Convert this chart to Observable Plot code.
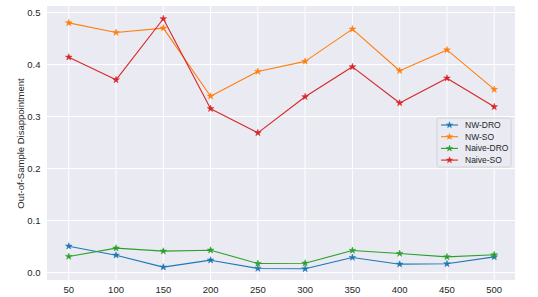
<!DOCTYPE html>
<html><head><meta charset="utf-8">
<script src="https://cdn.jsdelivr.net/npm/d3@7"></script>
<script src="https://cdn.jsdelivr.net/npm/@observablehq/plot@0.6"></script>
<style>
html,body{margin:0;padding:0;background:#fff;}
#chart{position:relative;width:538px;height:297px;}
</style></head>
<body><div id="chart"></div>
<script>
const sampleSizes = [50, 100, 150, 200, 250, 300, 350, 400, 450, 500];
const seriesNames = ["NW-DRO", "NW-SO", "Naive-DRO", "Naive-SO"];
const seriesColors = ["#1f77b4", "#ff7f0e", "#2ca02c", "#d62728"];
const nwDRO    = [0.0506, 0.0333, 0.0103, 0.0237, 0.0077, 0.0071, 0.0288, 0.0160, 0.0167, 0.0300];
const nwSO     = [0.480, 0.4615, 0.470, 0.339, 0.3865, 0.406, 0.468, 0.388, 0.428, 0.352];
const naiveDRO = [0.0308, 0.0468, 0.0410, 0.0429, 0.0173, 0.0179, 0.0423, 0.0365, 0.0301, 0.0340];
const naiveSO  = [0.414, 0.3705, 0.488, 0.315, 0.2686, 0.338, 0.3955, 0.326, 0.3737, 0.3186];
const yTicks = [0, 0.1, 0.2, 0.3, 0.4, 0.5];
const yLabel = "Out-of-Sample Disappointment";

const allSeries = [nwDRO, nwSO, naiveDRO, naiveSO];
const data = [];
seriesNames.forEach((name, i) => {
  sampleSizes.forEach((n, j) => data.push({series: name, n, value: allSeries[i][j]}));
});

const font = "'Liberation Sans', Arial, sans-serif";
const plot = Plot.plot({
  width: 538, height: 297,
  marginLeft: 47, marginRight: 23, marginTop: 6, marginBottom: 17,
  style: {fontFamily: font, fontSize: "9.5px", color: "#262626", background: "#fff"},
  x: {domain: [27.5, 522.5], ticks: sampleSizes},
  y: {domain: [-0.0154, 0.5115], ticks: yTicks},
  color: {domain: seriesNames, range: seriesColors},
  marks: [
    Plot.gridX(sampleSizes, {stroke: "#fff", strokeOpacity: 1, strokeWidth: 1}),
    Plot.gridY(yTicks, {stroke: "#fff", strokeOpacity: 1, strokeWidth: 1}),
    Plot.axisX({ticks: sampleSizes, tickSize: 0, tickPadding: 6, label: null, fill: "#262626"}),
    Plot.axisY({ticks: yTicks, tickSize: 0, tickPadding: 7, tickFormat: d3.format(".1f"),
      label: yLabel, labelAnchor: "center", labelArrow: "none", labelOffset: 30, fill: "#262626"}),
    Plot.line(data, {x: "n", y: "value", z: "series", stroke: "series", strokeWidth: 1.1}),
    Plot.dot(data, {x: "n", y: "value", fill: "series", stroke: "series", symbol: "star", r: 2.1, strokeWidth: 0.5})
  ]
});
document.getElementById("chart").appendChild(plot);

const svg = d3.select(plot);
// Background panel from the plot's own scale ranges
const xr = plot.scale("x").range, yr = plot.scale("y").range;
svg.insert("rect", ":first-child")
  .attr("x", Math.min(...xr)).attr("y", Math.min(...yr))
  .attr("width", Math.abs(xr[1] - xr[0])).attr("height", Math.abs(yr[1] - yr[0]))
  .attr("fill", "#eaeaf2");
svg.insert("rect", ":first-child").attr("width", 538).attr("height", 297).attr("fill", "#fff");

// Legend
const lg = svg.append("g").attr("font-family", font).attr("font-size", "8.5px").attr("text-anchor", "start");
const lx = 437, ly = 118, lw = 74, lh = 49;
lg.append("rect").attr("x", lx).attr("y", ly).attr("width", lw).attr("height", lh)
  .attr("rx", 2).attr("fill", "#eaeaf2").attr("fill-opacity", 0.8).attr("stroke", "#cccccc").attr("stroke-width", 0.8);
const sym = d3.symbol(d3.symbolStar, 12);
seriesNames.forEach((name, i) => {
  const y = 125 + i * 11.7;
  lg.append("line").attr("x1", 441).attr("x2", 458).attr("y1", y).attr("y2", y)
    .attr("stroke", seriesColors[i]).attr("stroke-width", 1.1);
  lg.append("path").attr("d", sym()).attr("transform", `translate(449.5,${y})`)
    .attr("fill", seriesColors[i]).attr("stroke", seriesColors[i]).attr("stroke-width", 0.5);
  lg.append("text").attr("x", 465).attr("y", y).attr("dy", "0.35em").attr("fill", "#262626").text(name);
});
</script></body></html>
